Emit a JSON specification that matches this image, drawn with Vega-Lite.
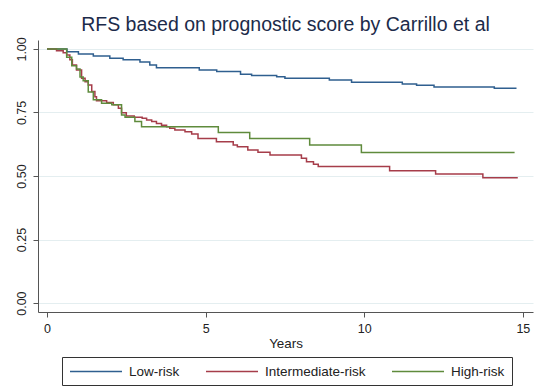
{
  "$schema": "https://vega.github.io/schema/vega-lite/v6.json",
  "width": 495,
  "height": 272,
  "autosize": "none",
  "padding": {"left": 38, "top": 40, "right": 11, "bottom": 75},
  "background": "white",
  "title": {
    "text": "RFS based on prognostic score by Carrillo et al",
    "font": "Liberation Sans",
    "fontSize": 19.5,
    "fontWeight": "normal",
    "color": "#1c2b4a",
    "anchor": "middle",
    "baseline": "alphabetic",
    "offset": -14
  },
  "data": {
    "values": [
      {"g": "Low-risk", "t": 0, "s": 1.0},
      {"g": "Low-risk", "t": 0.63, "s": 0.989},
      {"g": "Low-risk", "t": 0.99, "s": 0.98},
      {"g": "Low-risk", "t": 1.46, "s": 0.972},
      {"g": "Low-risk", "t": 1.98, "s": 0.963},
      {"g": "Low-risk", "t": 2.4, "s": 0.957},
      {"g": "Low-risk", "t": 2.93, "s": 0.948},
      {"g": "Low-risk", "t": 3.24, "s": 0.937},
      {"g": "Low-risk", "t": 3.45, "s": 0.926},
      {"g": "Low-risk", "t": 4.8, "s": 0.917},
      {"g": "Low-risk", "t": 5.35, "s": 0.911},
      {"g": "Low-risk", "t": 6.1, "s": 0.9},
      {"g": "Low-risk", "t": 6.45, "s": 0.895},
      {"g": "Low-risk", "t": 7.24, "s": 0.89},
      {"g": "Low-risk", "t": 7.5, "s": 0.885},
      {"g": "Low-risk", "t": 8.9, "s": 0.878},
      {"g": "Low-risk", "t": 9.6, "s": 0.869},
      {"g": "Low-risk", "t": 11.2, "s": 0.862},
      {"g": "Low-risk", "t": 11.65, "s": 0.857},
      {"g": "Low-risk", "t": 12.2, "s": 0.85},
      {"g": "Low-risk", "t": 14.1, "s": 0.845},
      {"g": "Low-risk", "t": 14.8, "s": 0.845},
      {"g": "Intermediate-risk", "t": 0, "s": 1.0},
      {"g": "Intermediate-risk", "t": 0.3, "s": 0.993},
      {"g": "Intermediate-risk", "t": 0.51, "s": 0.985},
      {"g": "Intermediate-risk", "t": 0.62, "s": 0.976},
      {"g": "Intermediate-risk", "t": 0.72, "s": 0.957},
      {"g": "Intermediate-risk", "t": 0.8, "s": 0.937},
      {"g": "Intermediate-risk", "t": 0.93, "s": 0.917},
      {"g": "Intermediate-risk", "t": 1.09, "s": 0.885},
      {"g": "Intermediate-risk", "t": 1.2, "s": 0.871},
      {"g": "Intermediate-risk", "t": 1.3, "s": 0.858},
      {"g": "Intermediate-risk", "t": 1.41, "s": 0.832},
      {"g": "Intermediate-risk", "t": 1.51, "s": 0.812},
      {"g": "Intermediate-risk", "t": 1.56, "s": 0.796},
      {"g": "Intermediate-risk", "t": 1.88, "s": 0.789},
      {"g": "Intermediate-risk", "t": 2.09, "s": 0.78},
      {"g": "Intermediate-risk", "t": 2.25, "s": 0.767},
      {"g": "Intermediate-risk", "t": 2.35, "s": 0.749},
      {"g": "Intermediate-risk", "t": 2.5, "s": 0.736},
      {"g": "Intermediate-risk", "t": 2.75, "s": 0.731},
      {"g": "Intermediate-risk", "t": 3.0, "s": 0.727},
      {"g": "Intermediate-risk", "t": 3.14, "s": 0.72},
      {"g": "Intermediate-risk", "t": 3.3, "s": 0.714},
      {"g": "Intermediate-risk", "t": 3.45, "s": 0.707},
      {"g": "Intermediate-risk", "t": 3.61, "s": 0.7},
      {"g": "Intermediate-risk", "t": 3.77, "s": 0.694},
      {"g": "Intermediate-risk", "t": 3.87, "s": 0.688},
      {"g": "Intermediate-risk", "t": 4.03, "s": 0.681},
      {"g": "Intermediate-risk", "t": 4.35, "s": 0.674},
      {"g": "Intermediate-risk", "t": 4.56, "s": 0.665},
      {"g": "Intermediate-risk", "t": 4.76, "s": 0.648},
      {"g": "Intermediate-risk", "t": 5.34, "s": 0.635},
      {"g": "Intermediate-risk", "t": 5.87, "s": 0.622},
      {"g": "Intermediate-risk", "t": 6.0, "s": 0.615},
      {"g": "Intermediate-risk", "t": 6.33, "s": 0.602},
      {"g": "Intermediate-risk", "t": 6.65, "s": 0.593},
      {"g": "Intermediate-risk", "t": 7.03, "s": 0.583},
      {"g": "Intermediate-risk", "t": 8.02, "s": 0.57},
      {"g": "Intermediate-risk", "t": 8.18, "s": 0.556},
      {"g": "Intermediate-risk", "t": 8.4, "s": 0.546},
      {"g": "Intermediate-risk", "t": 8.55, "s": 0.537},
      {"g": "Intermediate-risk", "t": 10.8, "s": 0.521},
      {"g": "Intermediate-risk", "t": 12.25, "s": 0.508},
      {"g": "Intermediate-risk", "t": 13.74, "s": 0.493},
      {"g": "Intermediate-risk", "t": 14.84, "s": 0.493},
      {"g": "High-risk", "t": 0, "s": 1.0},
      {"g": "High-risk", "t": 0.62, "s": 0.967},
      {"g": "High-risk", "t": 0.78, "s": 0.934},
      {"g": "High-risk", "t": 0.93, "s": 0.921},
      {"g": "High-risk", "t": 1.04, "s": 0.889},
      {"g": "High-risk", "t": 1.14, "s": 0.875},
      {"g": "High-risk", "t": 1.3, "s": 0.83},
      {"g": "High-risk", "t": 1.46, "s": 0.8},
      {"g": "High-risk", "t": 1.72, "s": 0.786},
      {"g": "High-risk", "t": 2.04, "s": 0.78},
      {"g": "High-risk", "t": 2.35, "s": 0.74},
      {"g": "High-risk", "t": 2.46, "s": 0.731},
      {"g": "High-risk", "t": 2.77, "s": 0.714},
      {"g": "High-risk", "t": 2.98, "s": 0.694},
      {"g": "High-risk", "t": 5.4, "s": 0.671},
      {"g": "High-risk", "t": 6.39, "s": 0.648},
      {"g": "High-risk", "t": 8.28, "s": 0.622},
      {"g": "High-risk", "t": 9.91, "s": 0.592},
      {"g": "High-risk", "t": 14.74, "s": 0.592}
    ]
  },
  "mark": {"type": "line", "interpolate": "step-after", "strokeWidth": 1.5},
  "encoding": {
    "x": {
      "field": "t",
      "type": "quantitative",
      "scale": {"domain": [-0.284, 15.32], "nice": false, "zero": false},
      "axis": {
        "title": "Years",
        "values": [0, 5, 10, 15],
        "format": "d",
        "grid": false,
        "domainColor": "#555",
        "tickColor": "#555",
        "tickSize": 5,
        "labelFont": "Liberation Sans",
        "labelFontSize": 12.5,
        "labelColor": "#222",
        "labelPadding": 5,
        "titleFont": "Liberation Sans",
        "titleFontSize": 13.4,
        "titleFontWeight": "normal",
        "titleColor": "#222",
        "titlePadding": 2
      }
    },
    "y": {
      "field": "s",
      "type": "quantitative",
      "scale": {"domain": [-0.035, 1.035], "nice": false, "zero": false},
      "axis": {
        "title": null,
        "values": [0, 0.25, 0.5, 0.75, 1],
        "format": ".2f",
        "grid": true,
        "gridColor": "#e4eef0",
        "gridWidth": 1,
        "domainColor": "#555",
        "tickColor": "#555",
        "tickSize": 5,
        "labelAngle": 270,
        "labelAlign": "center",
        "labelBaseline": "bottom",
        "labelFont": "Liberation Sans",
        "labelFontSize": 12.5,
        "labelColor": "#222",
        "labelPadding": 5
      }
    },
    "color": {
      "field": "g",
      "type": "nominal",
      "scale": {
        "domain": ["Low-risk", "Intermediate-risk", "High-risk"],
        "range": ["#2f5f8f", "#a63d4a", "#5f8b3c"]
      },
      "legend": {
        "title": null,
        "orient": "none",
        "legendX": 24,
        "legendY": 317,
        "direction": "horizontal",
        "symbolType": "M-1,0H7",
        "symbolSize": 169,
        "symbolStrokeWidth": 1.5,
        "symbolFillColor": "transparent",
        "labelFont": "Liberation Sans",
        "labelFontSize": 13.5,
        "labelColor": "#222",
        "labelOffset": 45,
        "columnPadding": 23,
        "padding": 7,
        "strokeColor": "#333",
        "fillColor": "white"
      }
    }
  },
  "config": {"view": {"stroke": null}}
}
